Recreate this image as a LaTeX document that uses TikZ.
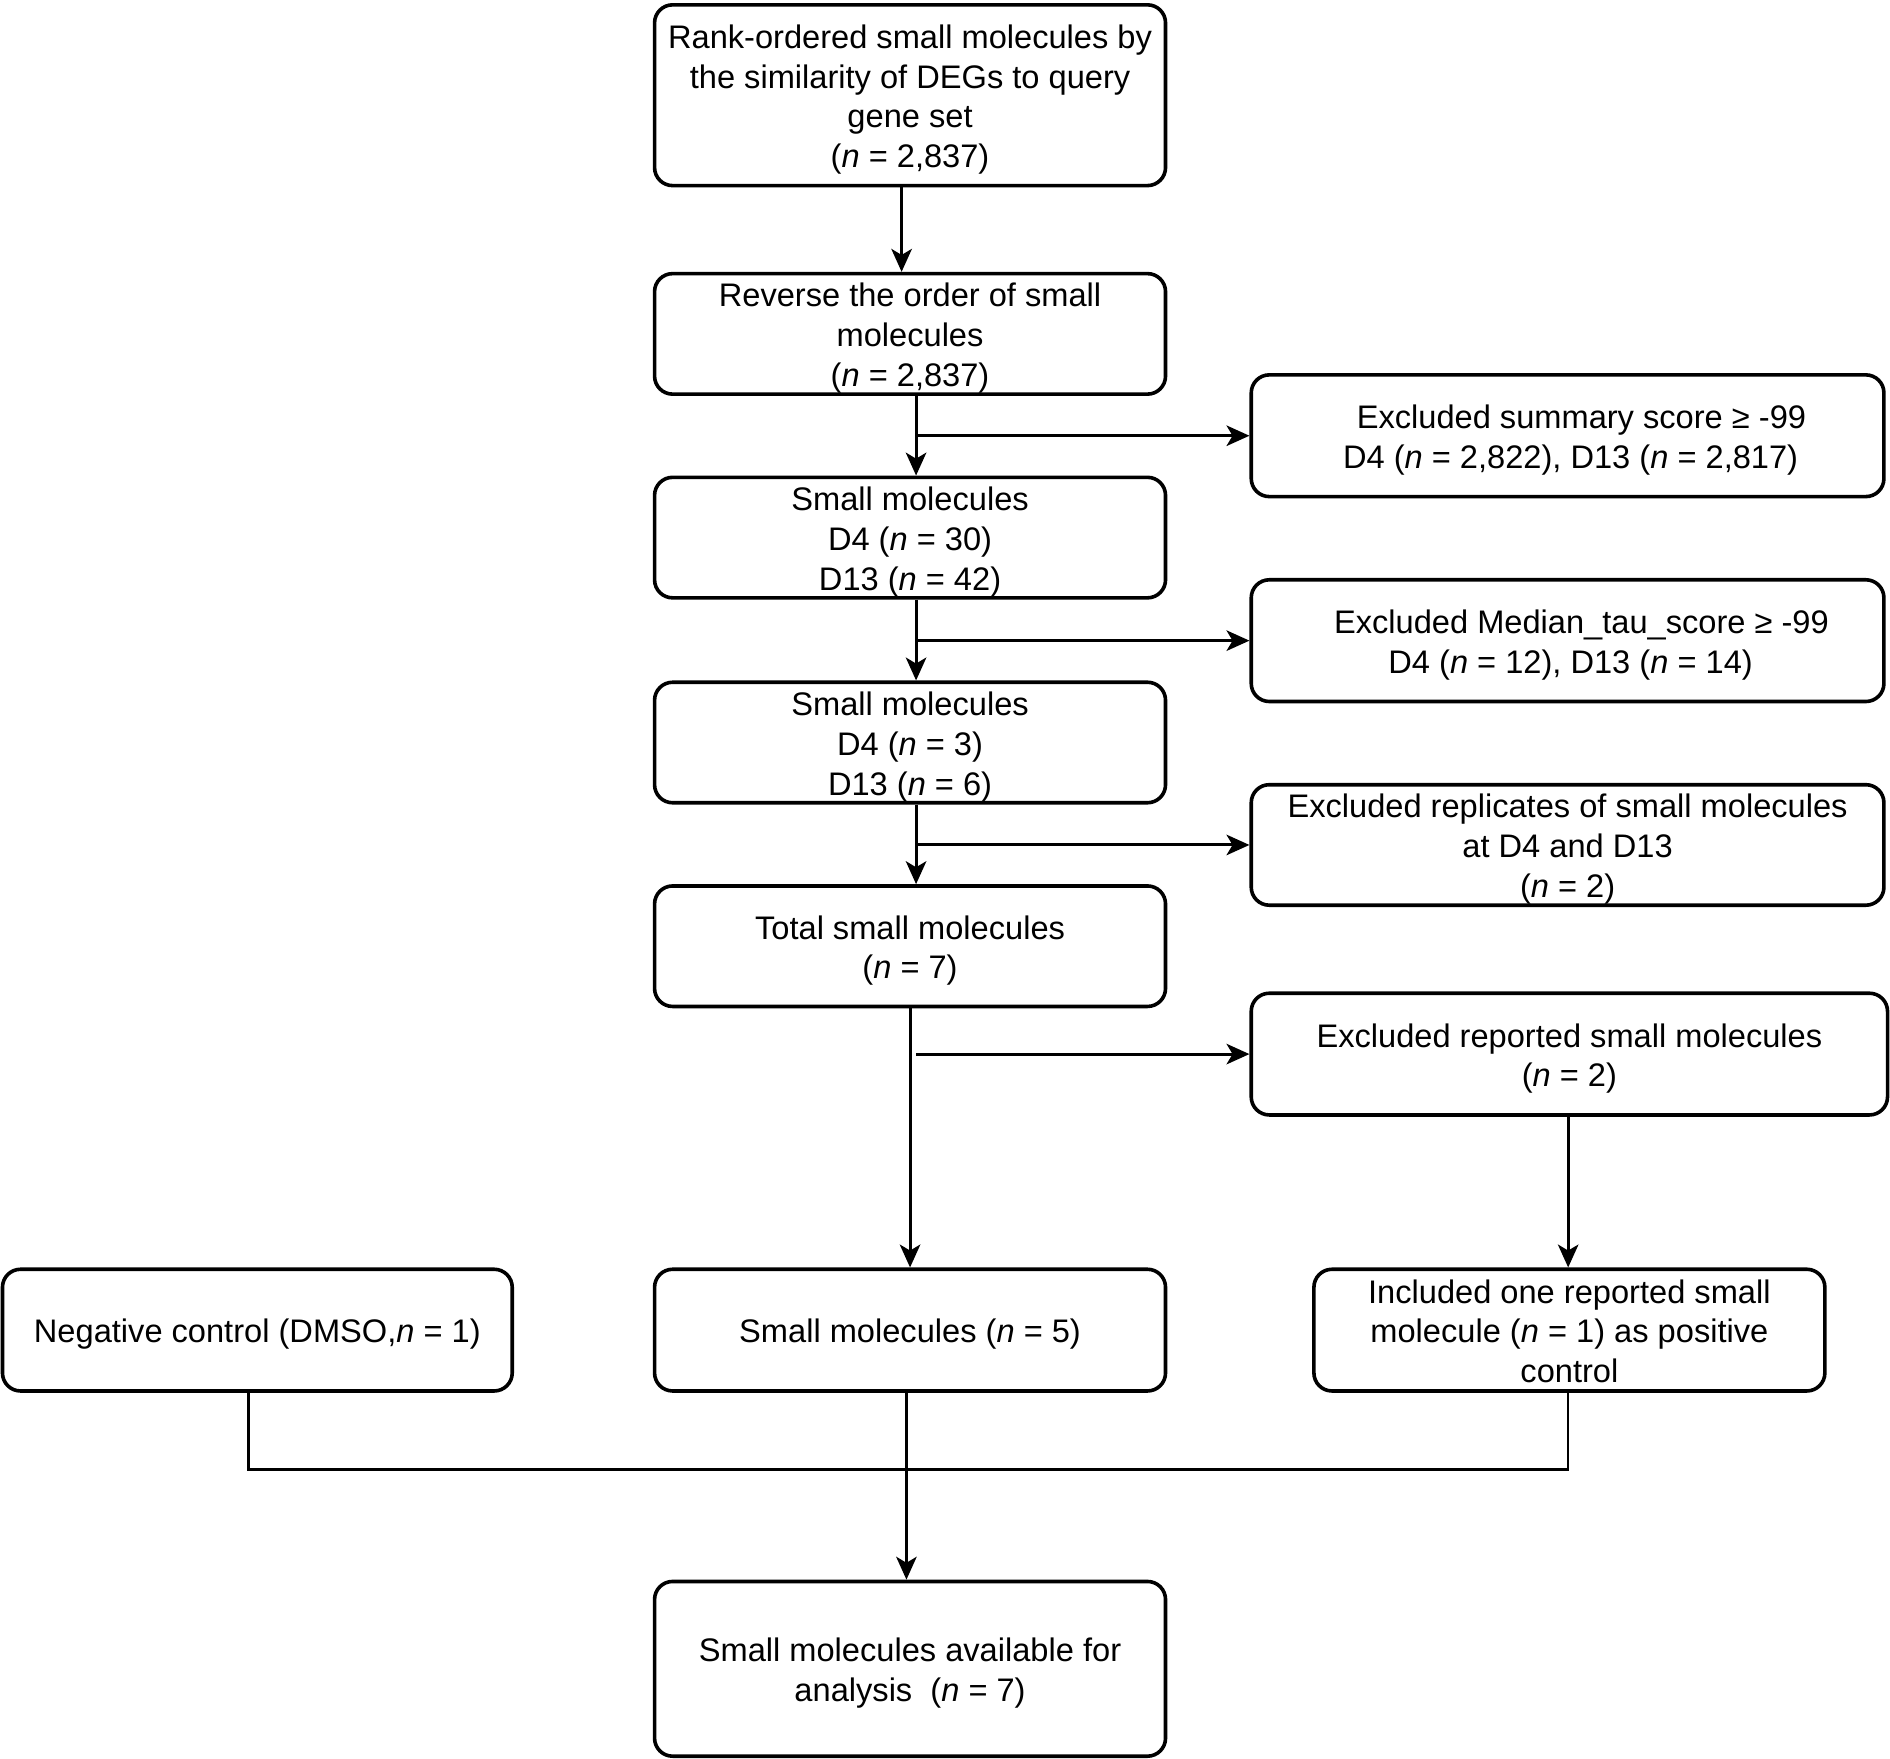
\documentclass[tikz,border=0pt]{standalone}
\usepackage{fontspec}
\setmainfont{Liberation Sans}
\usetikzlibrary{arrows.meta}
\newcommand{\tx}[1]{\raisebox{-2.3pt}[\height][\depth]{\begin{tabular}{@{}c@{}}#1\end{tabular}}}
\begin{document}
\begin{tikzpicture}[x=0.02cm,y=-0.02cm,
  box/.style={draw, line width=1.7pt, rounded corners=0.3cm,
    font=\fontsize{15.4}{18.8}\selectfont, inner sep=0pt, minimum width=8.48cm},
  rbox/.style={box, minimum width=10.5cm, minimum height=2.02cm},
  conn/.style={line width=1.4pt},
  thin/.style={line width=1.2pt},
  arr/.style={conn, -{Stealth[length=0.38cm,width=0.34cm,inset=0.1cm]}}]
\useasboundingbox (0,0) rectangle (1568,1459);

\node[box, minimum height=3.0cm] (B1) at (755,79) {\tx{Rank-ordered small molecules by\\the similarity of DEGs to query\\gene set\\(\textit{n} = 2,837)}};
\node[box, minimum height=2.0cm] (B2) at (755,277) {\tx{Reverse the order of small\\molecules\\(\textit{n} = 2,837)}};
\node[box, minimum height=2.0cm] (B3) at (755,446) {\tx{Small molecules\\D4 (\textit{n} = 30)\\D13 (\textit{n} = 42)}};
\node[box, minimum height=2.0cm] (B4) at (755,616) {\tx{Small molecules\\D4 (\textit{n} = 3)\\D13 (\textit{n} = 6)}};
\node[box, minimum height=2.0cm] (B5) at (755,785) {\tx{Total small molecules\\(\textit{n} = 7)}};

\node[rbox] (R1) at (1300.5,361.5) {\tx{\hspace*{0.46cm}Excluded summary score ≥ -99\\\hspace*{0.1cm}D4 (\textit{n} = 2,822), D13 (\textit{n} = 2,817)}};
\node[rbox] (R2) at (1300.5,531.5) {\tx{\hspace*{0.46cm}Excluded Median\_tau\_score ≥ -99\\\hspace*{0.1cm}D4 (\textit{n} = 12), D13 (\textit{n} = 14)}};
\node[rbox, minimum height=2.0cm] (R3) at (1300.5,701) {\tx{Excluded replicates of small molecules\\at D4 and D13\\(\textit{n} = 2)}};
\node[rbox, minimum width=10.56cm] (R4) at (1302,874.5) {\tx{Excluded reported small molecules\\(\textit{n} = 2)}};

\node[box, minimum width=8.46cm, minimum height=2.02cm] (B7) at (213.5,1103.5) {\tx{Negative control (DMSO,\textit{n} = 1)}};
\node[box, minimum height=2.02cm] (B6) at (755,1103.5) {\tx{Small molecules (\textit{n} = 5)}};
\node[box, minimum height=2.02cm] (B8) at (1302,1103.5) {\tx{Included one reported small\\molecule (\textit{n} = 1) as positive\\control}};
\node[box, minimum height=2.9cm] (B9) at (755,1384.5) {\tx{Small molecules available for\\analysis\ \ (\textit{n} = 7)}};

\draw[arr] ([xshift=-0.14cm]B1.south) -- ([xshift=-0.14cm]B2.north);
\draw[arr] ([xshift=0.1cm]B2.south) -- ([xshift=0.1cm]B3.north);
\draw[arr] ([xshift=0.1cm]B2.south |- R1.west) -- (R1.west);
\draw[arr] ([xshift=0.1cm]B3.south) -- ([xshift=0.1cm]B4.north);
\draw[arr] ([xshift=0.1cm]B3.south |- R2.west) -- (R2.west);
\draw[arr] ([xshift=0.1cm]B4.south) -- ([xshift=0.1cm]B5.north);
\draw[arr] ([xshift=0.1cm]B4.south |- R3.west) -- (R3.west);
\draw[arr] (B5.south) -- (B6.north);
\draw[arr] ([xshift=0.1cm]B5.south |- R4.west) -- (R4.west);
\draw[arr] ([xshift=-0.02cm]R4.south) -- ([xshift=-0.02cm]B8.north);

\coordinate (J) at (752,1219);
\draw[thin] ([xshift=-0.15cm]B7.south) |- (J) -| ([xshift=-0.02cm]B8.south);
\draw[arr, line width=1.2pt] ([xshift=-0.06cm]B6.south) -- ([xshift=-0.06cm]B9.north);
\end{tikzpicture}
\end{document}
